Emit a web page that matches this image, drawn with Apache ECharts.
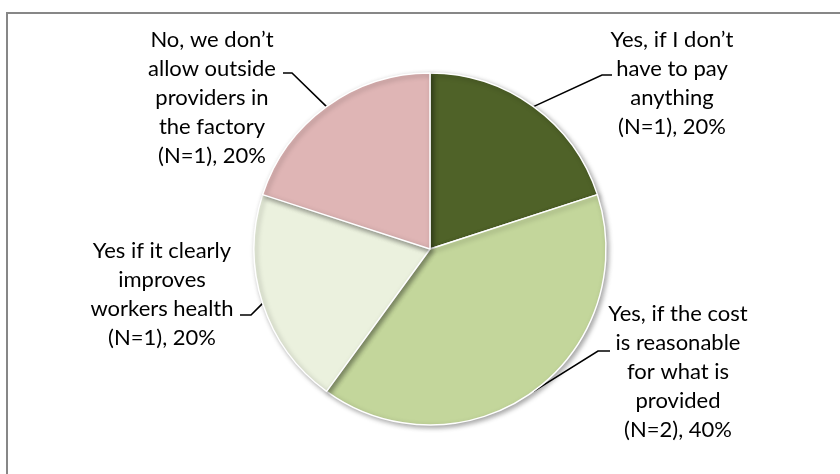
<!DOCTYPE html>
<html>
<head>
<meta charset="utf-8">
<style>
  html, body { margin: 0; padding: 0; background: #ffffff; }
  #chart { width: 840px; height: 474px; }
</style>
<script src="https://cdn.jsdelivr.net/npm/echarts@6/dist/echarts.min.js"></script>
</head>
<body>
<div id="chart"></div>
<script>
// Answer categories (line breaks as set in the labels)
const categories = [
  "Yes, if I don\u2019t\nhave to pay\nanything",
  "Yes, if the cost\nis reasonable\nfor what is\nprovided",
  "Yes if it clearly\nimproves\nworkers health",
  "No, we don\u2019t\nallow outside\nproviders in\nthe factory"
];
// Respondent counts per answer
const counts = [1, 2, 1, 1];
// Share of respondents, percent
const shares = [20, 40, 20, 20];
// Slice colours
const colors = ["#4F6228", "#C3D69B", "#EBF1DE", "#DFB5B5"];

// Where each label block sits and where its leader line bends
const labelPlacement = [
  { cx: 672, top: 25, elbow: [602, 75], end: [612, 75] },
  { cx: 678, top: 299, elbow: [598, 351], end: [610, 351] },
  { cx: 162, top: 236, elbow: [251, 315], end: [240, 315] },
  { cx: 212, top: 25, elbow: [292, 73], end: [283, 73] }
];

const data = categories.map((name, i) => ({
  name: name,
  value: counts[i],
  share: shares[i],
  itemStyle: { color: colors[i] }
}));

const chart = echarts.init(document.getElementById('chart'), null, { renderer: 'canvas' });

chart.setOption({
  animation: false,
  backgroundColor: '#ffffff',
  graphic: [{
    type: 'rect',
    shape: { x: 7, y: 13, width: 900, height: 520 },
    style: { fill: 'none', stroke: '#878787', lineWidth: 2 },
    silent: true,
    z: 0
  }],
  series: [{
    type: 'pie',
    center: [430, 249],
    radius: [0, 176],
    startAngle: 90,
    clockwise: true,
    data: data,
    itemStyle: {
      borderColor: '#ffffff',
      borderWidth: 1.5,
      shadowBlur: 5,
      shadowOffsetX: 2,
      shadowOffsetY: 2,
      shadowColor: 'rgba(0,0,0,0.35)'
    },
    emphasis: { disabled: true },
    label: {
      show: true,
      position: 'outside',
      formatter: p => p.name + '\n(N=' + p.value + '), ' + p.data.share + '%',
      fontFamily: 'Lato, "Liberation Sans", sans-serif',
      fontSize: 22,
      lineHeight: 29,
      color: '#000000',
      align: 'center'
    },
    labelLine: {
      show: true,
      lineStyle: { color: '#000000', width: 1.6 }
    },
    labelLayout: function (params) {
      const lp = labelPlacement[params.dataIndex];
      const start = params.labelLinePoints ? params.labelLinePoints[0] : lp.elbow;
      return {
        x: lp.cx,
        y: lp.top,
        align: 'center',
        verticalAlign: 'top',
        labelLinePoints: [start, lp.elbow, lp.end]
      };
    }
  }]
});
</script>
</body>
</html>
